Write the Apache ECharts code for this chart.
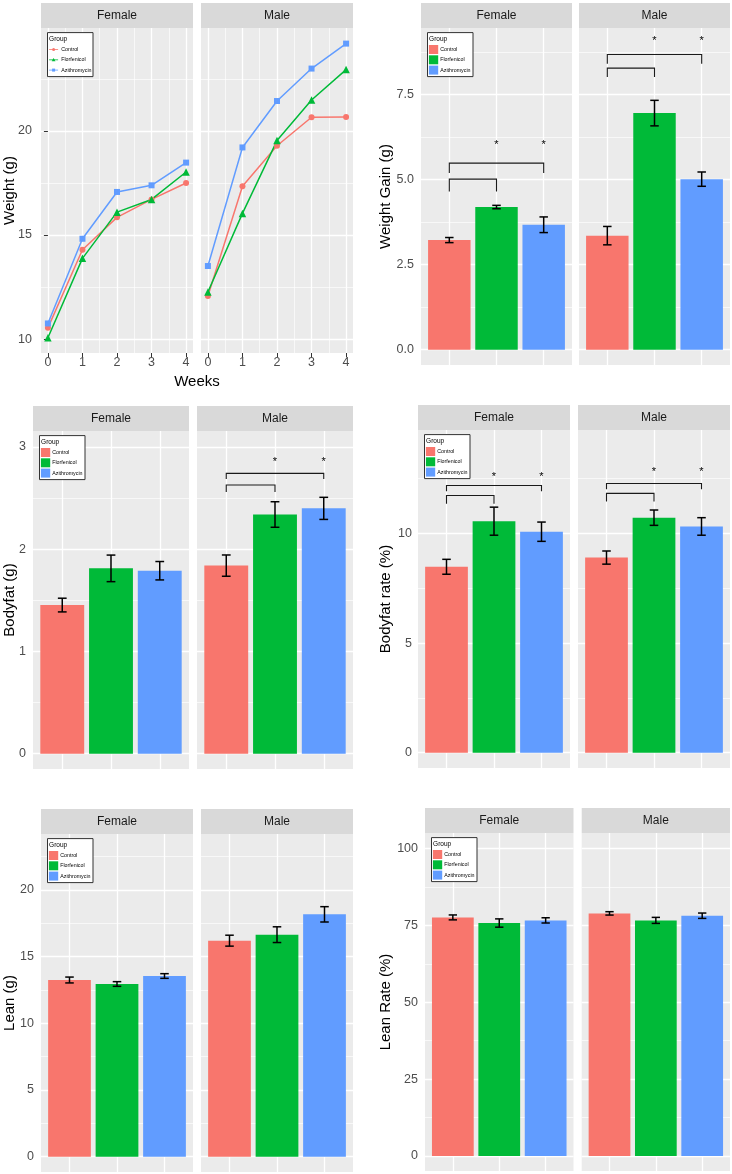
<!DOCTYPE html>
<html>
<head>
<meta charset="utf-8">
<script src="https://cdn.jsdelivr.net/npm/echarts@6/dist/echarts.min.js"></script>
<style>
html,body{margin:0;padding:0;background:#ffffff;}
#chart{width:732px;height:1174px;}
</style>
</head>
<body>
<div id="chart"></div>
<script>
// ===================== DATA =====================
const groups = ['Control', 'Florfenicol', 'Azithromycin'];
const facets = ['Female', 'Male'];
const weeks = [0, 1, 2, 3, 4];

// Weight (g) by week
const weightFemaleControl      = [10.54, 14.29, 15.85, 16.71, 17.50];
const weightFemaleFlorfenicol  = [10.06, 13.88, 16.10, 16.71, 18.03];
const weightFemaleAzithromycin = [10.75, 14.82, 17.07, 17.39, 18.48];
const weightMaleControl        = [12.07, 17.34, 19.29, 20.66, 20.67];
const weightMaleFlorfenicol    = [12.26, 16.04, 19.54, 21.49, 22.95];
const weightMaleAzithromycin   = [13.51, 19.21, 21.44, 23.00, 24.20];

// Weight gain (g): mean and error (Control, Florfenicol, Azithromycin)
const gainFemaleMean = [3.22, 4.19, 3.67];
const gainFemaleErr  = [0.075, 0.05, 0.23];
const gainMaleMean   = [3.35, 6.95, 5.01];
const gainMaleErr    = [0.27, 0.375, 0.21];

// Bodyfat (g)
const fatFemaleMean = [1.454, 1.813, 1.79];
const fatFemaleErr  = [0.067, 0.13, 0.09];
const fatMaleMean   = [1.84, 2.34, 2.40];
const fatMaleErr    = [0.104, 0.125, 0.108];

// Bodyfat rate (%)
const fatRateFemaleMean = [8.48, 10.56, 10.08];
const fatRateFemaleErr  = [0.34, 0.64, 0.44];
const fatRateMaleMean   = [8.90, 10.72, 10.32];
const fatRateMaleErr    = [0.30, 0.35, 0.40];

// Lean (g)
const leanFemaleMean = [13.25, 12.95, 13.55];
const leanFemaleErr  = [0.22, 0.175, 0.175];
const leanMaleMean   = [16.20, 16.65, 18.175];
const leanMaleErr    = [0.41, 0.59, 0.575];

// Lean rate (%)
const leanRateFemaleMean = [77.63, 75.80, 76.66];
const leanRateFemaleErr  = [0.80, 1.35, 0.85];
const leanRateMaleMean   = [78.94, 76.66, 78.18];
const leanRateMaleErr    = [0.55, 0.98, 0.87];

// Significance brackets: [fromGroup, toGroup, bracketY, legEndY]; stars: [group, y]
const gainFemaleBrackets = [[0, 1, 5.01, 4.65], [0, 2, 5.48, 5.19]];
const gainFemaleStars    = [[1, 6.09], [2, 6.09]];
const gainMaleBrackets   = [[0, 1, 8.27, 8.01], [0, 2, 8.67, 8.40]];
const gainMaleStars      = [[1, 9.13], [2, 9.13]];
const fatMaleBrackets    = [[0, 1, 2.628, 2.56], [0, 2, 2.742, 2.687]];
const fatMaleStars       = [[1, 2.876], [2, 2.876]];
const fatRateFemaleBrackets = [[0, 1, 11.73, 11.35], [0, 2, 12.19, 11.93]];
const fatRateFemaleStars    = [[1, 12.69], [2, 12.69]];
const fatRateMaleBrackets   = [[0, 1, 11.83, 11.46], [0, 2, 12.28, 12.02]];
const fatRateMaleStars      = [[1, 12.92], [2, 12.92]];

// Tick labels
const weekTicks     = [0, 1, 2, 3, 4];
const weightTicks   = [10, 15, 20];
const gainTicks     = [0, 2.5, 5, 7.5];
const fatTicks      = [0, 1, 2, 3];
const fatRateTicks  = [0, 5, 10];
const leanTicks     = [0, 5, 10, 15, 20];
const leanRateTicks = [0, 25, 50, 75, 100];

// Axis titles
const axisTitles = ['Weight (g)', 'Weight Gain (g)', 'Bodyfat (g)', 'Bodyfat rate (%)', 'Lean (g)', 'Lean Rate (%)'];
const xTitle = 'Weeks';
const legendTitle = 'Group';

// ===================== STYLE / LAYOUT =====================
const colors = ['#F8766D', '#00BA38', '#619CFF'];
const symbols = ['circle', 'triangle', 'rect'];
const symbolSizes = [6, 7.5, 6];
const FONT = '"Liberation Sans", Arial, Helvetica, sans-serif';
const PANEL_BG = '#EBEBEB';
const STRIP_BG = '#D9D9D9';
const TICK_COL = '#4D4D4D';

const panels = [
  { type: 'line', title: axisTitles[0], ticks: weightTicks, ymin: 9.33, ymax: 24.95, dec: 0,
    xmin: -0.2, xmax: 4.2, tickMarks: true, labelMargin: 9, titleX: 9.5,
    layout: [{l: 41, t: 28, w: 152, h: 325}, {l: 201, t: 28, w: 152, h: 325}],
    lines: [[weightFemaleControl, weightFemaleFlorfenicol, weightFemaleAzithromycin],
            [weightMaleControl, weightMaleFlorfenicol, weightMaleAzithromycin]] },
  { type: 'bar', title: axisTitles[1], ticks: gainTicks, ymin: -0.45, ymax: 9.45, dec: 1,
    labelMargin: 7, titleX: 386,
    layout: [{l: 421, t: 28, w: 151, h: 337}, {l: 579, t: 28, w: 151, h: 337}],
    mean: [gainFemaleMean, gainMaleMean], err: [gainFemaleErr, gainMaleErr],
    brackets: [gainFemaleBrackets, gainMaleBrackets], stars: [gainFemaleStars, gainMaleStars] },
  { type: 'bar', title: axisTitles[2], ticks: fatTicks, ymin: -0.15, ymax: 3.157, dec: 0,
    labelMargin: 7, titleX: 9.5,
    layout: [{l: 33, t: 431, w: 156, h: 338}, {l: 197, t: 431, w: 156, h: 338}],
    mean: [fatFemaleMean, fatMaleMean], err: [fatFemaleErr, fatMaleErr],
    brackets: [[], fatMaleBrackets], stars: [[], fatMaleStars] },
  { type: 'bar', title: axisTitles[3], ticks: fatRateTicks, ymin: -0.70, ymax: 14.72, dec: 0,
    labelMargin: 6, titleX: 385.5,
    layout: [{l: 418, t: 430, w: 152, h: 338}, {l: 578, t: 430, w: 152, h: 338}],
    mean: [fatRateFemaleMean, fatRateMaleMean], err: [fatRateFemaleErr, fatRateMaleErr],
    brackets: [fatRateFemaleBrackets, fatRateMaleBrackets], stars: [fatRateFemaleStars, fatRateMaleStars] },
  { type: 'bar', title: axisTitles[4], ticks: leanTicks, ymin: -1.15, ymax: 24.2, dec: 0,
    labelMargin: 7, titleX: 9.5,
    layout: [{l: 41, t: 834, w: 152, h: 338}, {l: 201, t: 834, w: 152, h: 338}],
    mean: [leanFemaleMean, leanMaleMean], err: [leanFemaleErr, leanMaleErr],
    brackets: [[], []], stars: [[], []] },
  { type: 'bar', title: axisTitles[5], ticks: leanRateTicks, ymin: -4.9, ymax: 105.1, dec: 0,
    labelMargin: 7, titleX: 386,
    layout: [{l: 425, t: 833, w: 148.5, h: 338}, {l: 581.7, t: 833, w: 148.3, h: 338}],
    mean: [leanRateFemaleMean, leanRateMaleMean], err: [leanRateFemaleErr, leanRateMaleErr],
    brackets: [[], []], stars: [[], []] }
];

function minorOf(ticks, lo, hi) {
  const step = ticks[1] - ticks[0];
  const out = [];
  for (let v = ticks[0] - step / 2; v <= hi; v += step) if (v >= lo) out.push(+v.toFixed(6));
  return out;
}

const grids = [], xAxes = [], yAxes = [], series = [], graphics = [];
const majorSplit = { show: true, lineStyle: { color: '#FFFFFF', width: 1.3 } };
const minorSplit = { show: true, lineStyle: { color: '#FFFFFF', width: 0.65 } };

function legendKey(k, isLine, bx, cy) {
  if (!isLine) {
    return [{ type: 'rect', shape: { x: bx + 1.4, y: cy - 4.5, width: 9.3, height: 9 },
      style: { fill: colors[k] }, z: 20 }];
  }
  const x0 = bx + 1.6, x1 = bx + 10.6, xc = (x0 + x1) / 2;
  const out = [{ type: 'line', shape: { x1: x0, y1: cy, x2: x1, y2: cy },
    style: { stroke: colors[k], lineWidth: 0.8 }, z: 20 }];
  if (symbols[k] === 'circle') {
    out.push({ type: 'circle', shape: { cx: xc, cy: cy, r: 1.5 }, style: { fill: colors[k] }, z: 21 });
  } else if (symbols[k] === 'triangle') {
    out.push({ type: 'polygon', shape: { points: [[xc, cy - 1.9], [xc - 1.9, cy + 1.4], [xc + 1.9, cy + 1.4]] },
      style: { fill: colors[k] }, z: 21 });
  } else {
    out.push({ type: 'rect', shape: { x: xc - 1.5, y: cy - 1.5, width: 3, height: 3 }, style: { fill: colors[k] }, z: 21 });
  }
  return out;
}

panels.forEach((p, pi) => {
  p.layout.forEach((g, fi) => {
    const gi = grids.length;
    grids.push({ left: g.l, top: g.t, width: g.w, height: g.h, show: true,
      backgroundColor: PANEL_BG, borderWidth: 0, containLabel: false, outerBoundsMode: 'none' });

    // strip
    graphics.push({ type: 'rect', shape: { x: g.l, y: g.t - 25, width: g.w, height: 25 },
      style: { fill: STRIP_BG }, z: 5 });
    graphics.push({ type: 'text', x: g.l + g.w / 2, y: g.t - 12.5,
      style: { text: facets[fi], font: '12px ' + FONT, fill: '#1A1A1A', align: 'center', verticalAlign: 'middle' }, z: 6 });

    // x axes
    const isLine = p.type === 'line';
    const xMin = isLine ? p.xmin : 0.4, xMax = isLine ? p.xmax : 3.6;
    const xMajor = isLine ? weekTicks : [1, 2, 3];
    const xi = xAxes.length;
    xAxes.push({ type: 'value', gridIndex: gi, min: xMin, max: xMax, position: 'bottom',
      axisLine: { show: false },
      axisTick: { show: isLine, customValues: xMajor, length: 4, lineStyle: { color: '#333333', width: 1 } },
      axisLabel: { show: isLine, customValues: xMajor, margin: 3.5, color: TICK_COL, fontSize: 12.5, fontFamily: FONT },
      splitLine: majorSplit });
    if (isLine) {
      xAxes.push({ type: 'value', gridIndex: gi, min: xMin, max: xMax, position: 'bottom', show: true,
        axisLine: { show: false },
        axisTick: { show: false, customValues: [0.5, 1.5, 2.5, 3.5] },
        axisLabel: { show: false, customValues: [0.5, 1.5, 2.5, 3.5] },
        splitLine: minorSplit });
    }
    // y axes
    const yi = yAxes.length;
    yAxes.push({ type: 'value', gridIndex: gi, min: p.ymin, max: p.ymax,
      axisLine: { show: false },
      axisTick: { show: fi === 0 && !!p.tickMarks, customValues: p.ticks, length: 4, lineStyle: { color: '#333333', width: 1 } },
      axisLabel: { show: fi === 0, customValues: p.ticks, margin: p.labelMargin, color: TICK_COL, fontSize: 12.5, fontFamily: FONT,
        formatter: v => Number(v).toFixed(p.dec) },
      splitLine: majorSplit });
    const mnr = minorOf(p.ticks, p.ymin, p.ymax);
    yAxes.push({ type: 'value', gridIndex: gi, min: p.ymin, max: p.ymax, position: 'left',
      axisLine: { show: false },
      axisTick: { show: false, customValues: mnr },
      axisLabel: { show: false, customValues: mnr },
      splitLine: minorSplit });

    if (isLine) {
      groups.forEach((name, k) => {
        series.push({ type: 'line', name: name, xAxisIndex: xi, yAxisIndex: yi, z: 3,
          data: weeks.map((w, i) => [w, p.lines[fi][k][i]]),
          symbol: symbols[k], symbolSize: symbolSizes[k], showSymbol: true,
          lineStyle: { color: colors[k], width: 1.5 }, itemStyle: { color: colors[k] },
          animation: false });
      });
    } else {
      const mean = p.mean[fi], err = p.err[fi];
      groups.forEach((name, k) => {
        series.push({ type: 'custom', name: name, xAxisIndex: xi, yAxisIndex: yi, z: 2,
          itemStyle: { color: colors[k] }, animation: false,
          data: [[k + 1, mean[k]]],
          renderItem: (params, api) => {
            const x = api.value(0), y = api.value(1);
            const a = api.coord([x - 0.45, y]), b = api.coord([x + 0.45, 0]);
            return { type: 'rect', shape: { x: a[0], y: a[1], width: b[0] - a[0], height: b[1] - a[1] },
              style: { fill: colors[k] } };
          } });
      });
      // error bars
      series.push({ type: 'custom', name: 'errorbar', xAxisIndex: xi, yAxisIndex: yi, z: 4, animation: false,
        data: groups.map((n, k) => [k + 1, mean[k], err[k]]),
        renderItem: (params, api) => {
          const x = api.value(0), m = api.value(1), e = api.value(2);
          const top = api.coord([x, m + e]), bot = api.coord([x, m - e]);
          const l = api.coord([x - 0.09, m])[0], r = api.coord([x + 0.09, m])[0];
          const st = { stroke: '#000000', lineWidth: 1.5 };
          return { type: 'group', children: [
            { type: 'line', shape: { x1: top[0], y1: top[1], x2: bot[0], y2: bot[1] }, style: st },
            { type: 'line', shape: { x1: l, y1: top[1], x2: r, y2: top[1] }, style: st },
            { type: 'line', shape: { x1: l, y1: bot[1], x2: r, y2: bot[1] }, style: st }
          ] };
        } });
      // brackets
      if (p.brackets[fi].length) {
        series.push({ type: 'custom', name: 'bracket', xAxisIndex: xi, yAxisIndex: yi, z: 4, animation: false,
          encode: { x: [0, 1], y: [2, 3] },
          data: p.brackets[fi].map(b => [b[0] + 1, b[1] + 1, b[2], b[3]]),
          renderItem: (params, api) => {
            const x1 = api.value(0), x2 = api.value(1), yt = api.value(2), yl = api.value(3);
            const pts = [api.coord([x1, yl]), api.coord([x1, yt]), api.coord([x2, yt]), api.coord([x2, yl])];
            return { type: 'polyline', shape: { points: pts }, style: { stroke: '#1A1A1A', lineWidth: 1.1, fill: null } };
          } });
        series.push({ type: 'custom', name: 'star', xAxisIndex: xi, yAxisIndex: yi, z: 4, animation: false,
          data: p.stars[fi].map(s => [s[0] + 1, s[1]]),
          renderItem: (params, api) => {
            const c = api.coord([api.value(0), api.value(1)]);
            return { type: 'text', x: c[0], y: c[1] + 2.5,
              style: { text: '*', font: '11px ' + FONT, fill: '#000000', align: 'center', verticalAlign: 'middle' } };
          } });
      }
    }

    // legend box inside the first facet
    if (fi === 0) {
      const bx = g.l + 6.5, by = g.t + 4.6;
      graphics.push({ type: 'rect', shape: { x: bx, y: by, width: 45.5, height: 44 },
        style: { fill: '#FFFFFF', stroke: '#333333', lineWidth: 1 }, z: 10 });
      graphics.push({ type: 'text', x: bx + 1.6, y: by + 6.5,
        style: { text: legendTitle, font: '6.5px ' + FONT, fill: '#000000', align: 'left', verticalAlign: 'middle' }, z: 20 });
      groups.forEach((name, k) => {
        const cy = by + 16.9 + k * 10.3;
        legendKey(k, isLine, bx, cy).forEach(e => graphics.push(e));
        graphics.push({ type: 'text', x: bx + (isLine ? 13.7 : 12.7), y: cy,
          style: { text: name, font: '5.3px ' + FONT, fill: '#000000', align: 'left', verticalAlign: 'middle' }, z: 20 });
      });
    }
  });

  // y axis title
  const f = p.layout[0];
  graphics.push({ type: 'text', x: p.titleX, y: f.t + f.h / 2, rotation: Math.PI / 2,
    style: { text: p.title, font: '15px ' + FONT, fill: '#000000', align: 'center', verticalAlign: 'middle' }, z: 6 });
});

graphics.push({ type: 'text', x: 197, y: 382,
  style: { text: xTitle, font: '15px ' + FONT, fill: '#000000', align: 'center', verticalAlign: 'middle' }, z: 6 });

const chart = echarts.init(document.getElementById('chart'), null, { renderer: 'canvas' });
chart.setOption({
  animation: false,
  backgroundColor: '#FFFFFF',
  textStyle: { fontFamily: FONT },
  grid: grids,
  xAxis: xAxes,
  yAxis: yAxes,
  series: series,
  graphic: { elements: graphics }
});
</script>
</body>
</html>
